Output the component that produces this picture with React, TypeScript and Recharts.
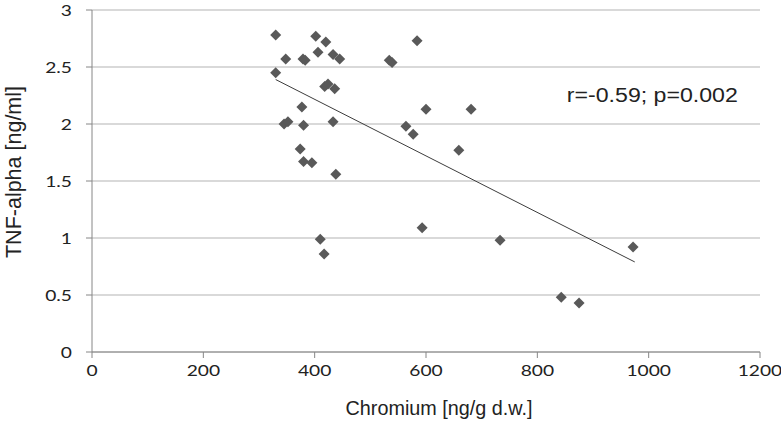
import React from 'react';
import { ScatterChart, Scatter, XAxis, YAxis, CartesianGrid, ReferenceLine, ReferenceDot } from 'recharts';

const chromium = [330, 330, 348, 345, 352, 374, 377, 379, 383, 380, 380, 395, 402, 406, 420, 433, 445, 418, 424, 436, 433, 438, 410, 417, 534, 539, 584, 564, 577, 600, 593, 659, 681, 733, 843, 875, 972];
const tnfAlpha = [2.78, 2.45, 2.57, 2.0, 2.02, 1.78, 2.15, 2.57, 2.56, 1.99, 1.67, 1.66, 2.77, 2.63, 2.72, 2.61, 2.57, 2.33, 2.35, 2.31, 2.02, 1.56, 0.99, 0.86, 2.56, 2.54, 2.73, 1.98, 1.91, 2.13, 1.09, 1.77, 2.13, 0.98, 0.48, 0.43, 0.92];

const trendX = [330, 975];
const trendY = [2.39, 0.79];

const xTicks = [0, 200, 400, 600, 800, 1000, 1200];
const yTicks = [0, 0.5, 1, 1.5, 2, 2.5, 3];

const annotation = 'r=-0.59; p=0.002';
const annotationPos = { x: 853, y: 2.19 };

const data = chromium.map((c, i) => ({ x: c, y: tnfAlpha[i] }));

const TICK_FONT = 'Lato, "Open Sans", sans-serif';
const TITLE_FONT = '"Liberation Sans", Arial, Helvetica, sans-serif';

const XTick = (props: any) => {
  const { x, y, payload } = props;
  return (
    <g transform={`translate(${x},${y}) scale(1.2,1)`}>
      <text x={0} y={0} dy={16} textAnchor="middle" fontSize={16} fontFamily={TICK_FONT} fill="#222">
        {payload.value}
      </text>
    </g>
  );
};

const YTick = (props: any) => {
  const { x, y, payload } = props;
  return (
    <g transform={`translate(${x - 12},${y}) scale(1.2,1)`}>
      <text x={0} y={0} dy={5.5} textAnchor="end" fontSize={16} fontFamily={TICK_FONT} fill="#222">
        {payload.value}
      </text>
    </g>
  );
};

const Diamond = (props: any) => {
  const { cx, cy } = props;
  if (cx == null || cy == null) return null;
  const h = 5.5;
  return (
    <polygon
      points={`${cx},${cy - h} ${cx + h},${cy} ${cx},${cy + h} ${cx - h},${cy}`}
      fill="#595959"
    />
  );
};

const XTitle = (props: any) => {
  const { viewBox } = props;
  const cx = viewBox.x + viewBox.width / 2 + 13;
  return (
    <text x={cx} y={415} textAnchor="middle" fontSize={19.8} fontFamily={TITLE_FONT} fill="#222">
      Chromium [ng/g d.w.]
    </text>
  );
};

const YTitle = (props: any) => {
  const { viewBox } = props;
  const cy = viewBox.y + viewBox.height / 2 - 9;
  return (
    <text x={-cy} y={21} transform="rotate(-90)" textAnchor="middle" fontSize={21.5} fontFamily={TITLE_FONT} fill="#222">
      TNF-alpha [ng/ml]
    </text>
  );
};

const AnnotationLabel = (props: any) => {
  const { viewBox } = props;
  return (
    <text
      x={viewBox.x}
      y={viewBox.y}
      fontSize={20}
      fontFamily={TITLE_FONT}
      fill="#222"
      textLength={171}
      lengthAdjust="spacingAndGlyphs"
    >
      {annotation}
    </text>
  );
};

export default function App() {
  return (
    <div style={{ position: 'absolute', left: 0, top: 0, width: 781, height: 429, background: '#fff' }}>
      <ScatterChart width={781} height={429} margin={{ top: 10, right: 21, bottom: 0, left: 0 }}>
        <CartesianGrid vertical={false} stroke="#b4b4b4" strokeWidth={1.2} />
        <XAxis
          type="number"
          dataKey="x"
          domain={[0, 1200]}
          ticks={xTicks}
          height={77}
          tickSize={6}
          tickMargin={2}
          stroke="#868686"
          tick={<XTick />}
          label={<XTitle />}
          interval={0}
        />
        <YAxis
          type="number"
          dataKey="y"
          domain={[0, 3]}
          ticks={yTicks}
          width={92}
          tickSize={6}
          tickMargin={2}
          stroke="#868686"
          tick={<YTick />}
          label={<YTitle />}
          interval={0}
        />
        <ReferenceLine
          segment={[
            { x: trendX[0], y: trendY[0] },
            { x: trendX[1], y: trendY[1] },
          ]}
          stroke="#3c3c3c"
          strokeWidth={1}
        />
        <Scatter data={data} shape={<Diamond />} isAnimationActive={false} />
        <ReferenceDot
          x={annotationPos.x}
          y={annotationPos.y}
          r={0}
          fill="none"
          stroke="none"
          label={<AnnotationLabel />}
        />
      </ScatterChart>
    </div>
  );
}
